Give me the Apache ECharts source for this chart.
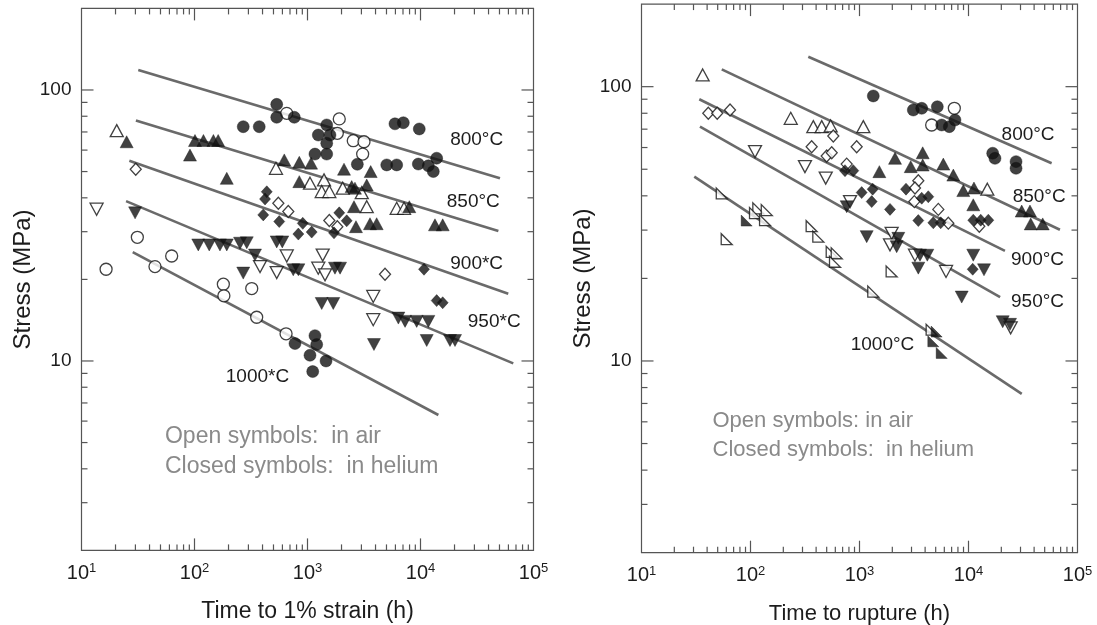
<!DOCTYPE html>
<html><head><meta charset="utf-8">
<script src="https://cdn.jsdelivr.net/npm/echarts@6/dist/echarts.min.js"></script>
<style>html,body{margin:0;padding:0;background:#fff}#c{width:1097px;height:625px}</style>
</head><body><div id="c"></div>
<script>
// ---------- tick values ----------
const xTickValues = [20,30,40,50,60,70,80,90,100,200,300,400,500,600,700,800,900,1000,2000,3000,4000,5000,6000,7000,8000,9000,10000,20000,30000,40000,50000,60000,70000,80000,90000];
const yTickValues = [3,4,5,6,7,8,9,10,20,30,40,50,60,70,80,90,100];

// ---------- left panel: time to 1% strain (h), stress (MPa) ----------
const strain800He = [[270,73.2],[374,73.2],[534,88.5],[534,79.3],[764,79.3],[1479,74.3],[1246,68.2],[1581,68.2],[1479,63.6],[1164,58.0],[1479,58.0],[2761,53.2],[5025,52.9],[6155,52.9],[5943,75.0],[7047,75.7],[9752,71.8],[9565,53.3],[11730,52.5],[12980,50.0],[13900,56.0]];
const strain800Air = [[655,82.0],[1910,78.2],[1836,69.2],[2541,65.0],[3162,64.4],[3077,58.0]];
const strain850He = [[25.1,64.4],[101,65.1],[120,65.1],[147,65.1],[162,65.1],[91.2,57.5],[193,47.2],[623,55.2],[846,54.1],[1075,53.7],[2104,51.0],[3623,50.0],[846,45.9],[2460,44.0],[2630,43.4],[3343,44.6],[2579,37.1],[7960,37.1],[2685,31.3],[3573,32.1],[4093,32.1],[13430,31.8],[15720,31.8]];
const strain850Air = [[20.5,70.8],[526,51.4],[1052,45.3],[1400,46.6],[1336,42.2],[1560,42.2],[2050,43.4],[3020,41.8],[3343,37.1],[6155,36.6],[7145,36.6]];
const strain900He = [[436,42.1],[421,39.6],[406,34.6],[562,32.7],[908,32.2],[830,29.4],[1089,29.9],[1910,35.2],[2223,32.9],[1716,29.7],[10740,21.8],[13900,16.7],[15720,16.4]];
const strain900Air = [[30.2,51.0],[552,38.2],[676,35.6],[1560,33.0],[1836,31.3],[4853,20.9]];
const strain950He = [[29.8,35.2],[108,26.8],[135,26.8],[168,26.8],[193,26.8],[253,27.2],[290,27.3],[343,24.6],[270,21.1],[534,27.5],[598,27.5],[748,21.7],[830,21.7],[1750,22.0],[1941,22.0],[1336,16.3],[1691,16.3],[3873,11.5],[6370,14.4],[7300,14.0],[9250,14.0],[11730,14.0],[11350,11.9],[18240,11.9],[20200,11.9]];
const strain950Air = [[13.6,36.3],[380,22.3],[655,24.4],[534,21.2],[1363,24.6],[1246,22.0],[1429,20.8],[3818,17.3],[3818,14.2]];
const strain1000He = [[775,11.6],[1164,12.4],[1206,11.5],[1052,10.5],[1459,10.0],[1112,9.14]];
const strain1000Air = [[16.5,21.8],[31.2,28.6],[44.7,22.3],[62.8,24.4],[180,19.2],[182,17.4],[355,14.5],[321,18.5],[646,12.6]];

const strainFit800 = [[31.8,118.5],[50500,47.2]];
const strainFit850 = [[30.3,77.1],[48900,30.2]];
const strainFit900 = [[26.5,54.8],[59800,17.7]];
const strainFit950 = [[24.8,38.9],[66200,9.80]];
const strainFit1000 = [[28.4,25.2],[14400,6.32]];

const strainLabels = [['800°C',31400,65.4],['850°C',29300,38.7],['900*C',31400,22.9],['950*C',44900,13.96],['1000*C',361,8.75]];
const strainNotes = [['Open symbols:  in air',54.8,5.24],['Closed symbols:  in helium',54.8,4.06]];

// ---------- right panel: time to rupture (h), stress (MPa) ----------
const rupture800He = [[1338,92.5],[3116,82.2],[3722,83.4],[5176,84.5],[5678,72.5],[6668,71.5],[7515,75.6],[16670,57.2],[17500,54.8],[27300,53.3],[27300,50.4]];
const rupture800Air = [[7413,83.4],[4592,72.5]];
const rupture850He = [[1521,49.0],[2118,54.8],[2951,51.1],[3800,57.4],[3800,51.8],[5875,52.2],[7260,47.6],[8957,41.8],[11220,42.7],[11060,37.1],[30760,35.2],[36640,35.2],[37220,31.6],[47970,31.6]];
const rupture850Air = [[36.4,110.3],[234,76.7],[377,71.5],[450,71.5],[544,71.9],[1084,71.5],[14880,42.3]];
const rupture900He = [[736,49.4],[877,49.4],[1047,41.1],[1321,42.3],[1294,38.1],[1905,35.7],[2671,42.3],[3722,39.2],[4276,39.7],[3463,32.5],[4754,31.9],[5560,31.9],[11060,32.6],[12950,32.6],[15200,32.6],[10930,21.6]];
const rupture900Air = [[41.0,80.0],[49.5,80.0],[64.9,82.2],[575,66.1],[364,60.4],[500,55.9],[556,57.4],[942,60.4],[763,52.2],[3463,45.4],[3229,42.7],[3185,38.1],[5285,35.7],[6530,31.8],[12560,31.0]];
const rupture950He = [[763,36.5],[1164,28.4],[2270,28.0],[2193,26.1],[3589,24.3],[4188,24.3],[3463,21.8],[11060,24.3],[13870,21.5],[8662,17.1],[20600,13.9],[24040,13.6]];
const rupture950Air = [[110,58.0],[316,51.1],[490,46.4],[819,38.1],[1972,29.2],[1905,26.5],[3229,24.3],[6223,21.2],[24380,13.2]];
const rupture1000He = [[92.3,32.5],[5105,12.8],[4754,11.8],[5678,10.7]];
const rupture1000Air = [[54.5,40.8],[118,36.0],[141,35.5],[110,34.6],[136,32.6],[60.5,27.8],[364,31.0],[419,28.4],[556,25.0],[618,24.7],[596,23.0],[1972,21.2],[1338,17.9],[4592,13.0]];

const ruptureFit800 = [[339,128.6],[57900,52.6]];
const ruptureFit850 = [[54.5,115.7],[69000,30.1]];
const ruptureFit900 = [[33.9,90.0],[21600,25.2]];
const ruptureFit950 = [[34.4,71.5],[19500,17.1]];
const ruptureFit1000 = [[30.5,47.0],[30800,7.59]];

const ruptureLabels = [['800°C',35200,66.7],['850°C',44500,39.7],['900°C',43000,23.3],['950°C',43000,16.4],['1000°C',1626,11.5]];
const ruptureNotes = [['Open symbols: in air',44.8,6.07],['Closed symbols:  in helium',44.8,4.72]];

// ---------- styling ----------
const FONT = '"Liberation Sans", Arial, Helvetica, sans-serif';
const TXT = '#1c1c1c';
const AXC = '#555555';
const RIGHT_TRI = 'path://M0,0L0,10L10,10Z';

function powExp(v){ const l = Math.log10(v); const e = Math.round(l); return Math.abs(l - e) < 1e-6 ? e : null; }

function xAxisOf(i, title, titleSize){
  return { type:'log', logBase:10, min:10, max:100000, gridIndex:i,
    axisLine:{show:false}, axisTick:{show:false}, splitLine:{show:false}, minorTick:{show:false},
    axisLabel:{ margin:12, hideOverlap:false, showMinLabel:true, showMaxLabel:true,
      fontSize:20, fontFamily:FONT, color:TXT, lineHeight:22,
      formatter: v => { const e = powExp(v); return e === null ? '' : '10{sup|' + e + '}'; },
      rich:{ sup:{fontSize:13, fontFamily:FONT, color:TXT, lineHeight:12, verticalAlign:'top'} } },
    name:title, nameLocation:'middle', nameGap:50,
    nameTextStyle:{fontSize:titleSize, fontFamily:FONT, color:TXT} };
}
function yAxisOf(i){
  return { type:'log', logBase:10, min:2, max:200, gridIndex:i,
    axisLine:{show:false}, axisTick:{show:false}, splitLine:{show:false}, minorTick:{show:false},
    axisLabel:{ margin:10, hideOverlap:false, fontSize:19, fontFamily:FONT, color:TXT,
      formatter: v => powExp(v) === null ? '' : String(Math.round(v)) },
    name:'Stress (MPa)', nameLocation:'middle', nameGap:46, nameRotate:90,
    nameTextStyle:{fontSize:24, fontFamily:FONT, color:TXT} };
}
function tickSeries(i, vals, dir){
  return { type:'custom', xAxisIndex:i, yAxisIndex:i, silent:true, z:5, clip:false,
    data: dir === 'x' ? vals.map(v => [v, 20]) : vals.map(v => [100, v]),
    renderItem: (params, api) => {
      const cs = params.coordSys;
      const st = {stroke:AXC, lineWidth:1.2};
      if (dir === 'x') {
        const v = api.value(0); const len = powExp(v) === null ? 6 : 12;
        const px = api.coord([v, 20])[0]; const b = cs.y + cs.height, t = cs.y;
        return {type:'group', children:[
          {type:'line', shape:{x1:px, y1:b, x2:px, y2:b - len}, style:st},
          {type:'line', shape:{x1:px, y1:t, x2:px, y2:t + len}, style:st}]};
      } else {
        const v = api.value(1); const len = powExp(v) === null ? 6 : 12;
        const py = api.coord([100, v])[1]; const l = cs.x, r = cs.x + cs.width;
        return {type:'group', children:[
          {type:'line', shape:{x1:l, y1:py, x2:l + len, y2:py}, style:st},
          {type:'line', shape:{x1:r, y1:py, x2:r - len, y2:py}, style:st}]};
      }
    } };
}
function fitSeries(i, d){
  return { type:'line', xAxisIndex:i, yAxisIndex:i, data:d, symbol:'none', silent:true, z:2,
    lineStyle:{color:'#6a6a6a', width:2.6} };
}
function markSeries(i, d, symbol, filled, size, rotate){
  return { type:'scatter', xAxisIndex:i, yAxisIndex:i, data:d, symbol:symbol, symbolSize:size,
    symbolRotate:rotate || 0, z:3, silent:true,
    itemStyle: filled ? {color:'#111', borderColor:'#111', borderWidth:0.5}
                      : {color:'#ffffff', borderColor:'#111', borderWidth:1.3} };
}
function textSeries(i, items, size, color, align){
  return { type:'custom', xAxisIndex:i, yAxisIndex:i, silent:true, z:6, clip:false,
    data: items.map(a => [a[1], a[2]]),
    renderItem: (params, api) => {
      const p = api.coord([api.value(0), api.value(1)]);
      return {type:'text', x:p[0], y:p[1],
        style:{text:items[params.dataIndex][0], fill:color, fontSize:size, fontFamily:FONT,
               align:align, verticalAlign:'middle'}};
    } };
}

const series = [
  fitSeries(0, strainFit800), fitSeries(0, strainFit850), fitSeries(0, strainFit900), fitSeries(0, strainFit950), fitSeries(0, strainFit1000),
  markSeries(0, strain800Air, 'circle', false, 12), markSeries(0, strain800He, 'circle', true, 12),
  markSeries(0, strain850Air, 'triangle', false, [13,12]), markSeries(0, strain850He, 'triangle', true, [13,12]),
  markSeries(0, strain900Air, 'diamond', false, [11,12]), markSeries(0, strain900He, 'diamond', true, [11,12]),
  markSeries(0, strain950Air, 'triangle', false, [13,12], 180), markSeries(0, strain950He, 'triangle', true, [13,12], 180),
  markSeries(0, strain1000Air, 'circle', false, 12), markSeries(0, strain1000He, 'circle', true, 12),
  textSeries(0, strainLabels, 19, TXT, 'center'), textSeries(0, strainNotes, 23, '#8a8a8a', 'left'),
  tickSeries(0, xTickValues, 'x'), tickSeries(0, yTickValues, 'y'),

  fitSeries(1, ruptureFit800), fitSeries(1, ruptureFit850), fitSeries(1, ruptureFit900), fitSeries(1, ruptureFit950), fitSeries(1, ruptureFit1000),
  markSeries(1, rupture800Air, 'circle', false, 12), markSeries(1, rupture800He, 'circle', true, 12),
  markSeries(1, rupture850Air, 'triangle', false, [13,12]), markSeries(1, rupture850He, 'triangle', true, [13,12]),
  markSeries(1, rupture900Air, 'diamond', false, [11,12]), markSeries(1, rupture900He, 'diamond', true, [11,12]),
  markSeries(1, rupture950Air, 'triangle', false, [13,12], 180), markSeries(1, rupture950He, 'triangle', true, [13,12], 180),
  markSeries(1, rupture1000Air, RIGHT_TRI, false, 11), markSeries(1, rupture1000He, RIGHT_TRI, true, 11),
  textSeries(1, ruptureLabels, 19, TXT, 'center'), textSeries(1, ruptureNotes, 22, '#8a8a8a', 'left'),
  tickSeries(1, xTickValues, 'x'), tickSeries(1, yTickValues, 'y')
];

const chart = echarts.init(document.getElementById('c'), null, {renderer:'canvas'});
chart.setOption({
  animation:false,
  backgroundColor:'#ffffff',
  grid:[
    {left:81.5, top:8.4, width:452, height:542, show:true, borderColor:AXC, borderWidth:1.2, backgroundColor:'transparent', containLabel:false, outerBoundsMode:'none'},
    {left:641.5, top:4.1, width:436, height:548.6, show:true, borderColor:AXC, borderWidth:1.2, backgroundColor:'transparent', containLabel:false, outerBoundsMode:'none'}
  ],
  xAxis:[xAxisOf(0, 'Time to 1% strain (h)', 23), xAxisOf(1, 'Time to rupture (h)', 22)],
  yAxis:[yAxisOf(0), yAxisOf(1)],
  series: series
});
</script>
</body></html>
